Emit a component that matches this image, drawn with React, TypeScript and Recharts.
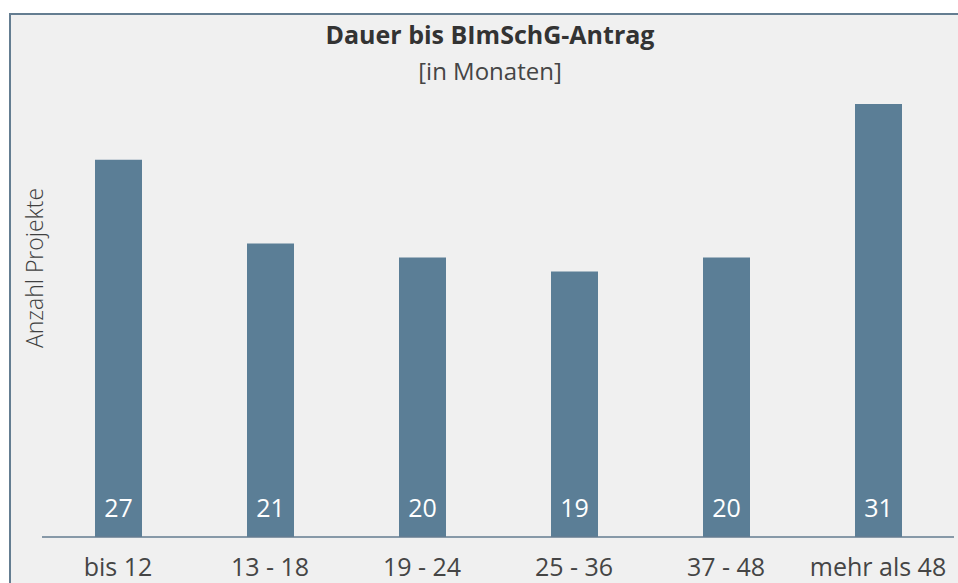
import { BarChart, Bar, XAxis, YAxis, LabelList } from 'recharts';

const CATEGORIES = ['bis 12', '13 - 18', '19 - 24', '25 - 36', '37 - 48', 'mehr als 48'];
const PROJECT_COUNTS = [27, 21, 20, 19, 20, 31];

const data = CATEGORIES.map((name, i) => ({ name, value: PROJECT_COUNTS[i] }));

const FONT = '"Open Sans", "Noto Sans", sans-serif';
const BAR_COLOR = '#5b7e96';
const FRAME_COLOR = '#647d91';

export default function App() {
  return (
    <div style={{ position: 'absolute', left: 0, top: 0, width: 958, height: 583, background: '#fff', overflow: 'hidden', fontFamily: FONT }}>
      <div
        style={{
          position: 'absolute',
          left: 9,
          top: 13,
          width: 960,
          height: 580,
          background: '#f0f0f0',
          borderTop: `2px solid ${FRAME_COLOR}`,
          borderLeft: `2px solid ${FRAME_COLOR}`,
        }}
      />
      <div style={{ position: 'absolute', left: 0, top: 0 }}>
        <BarChart width={958} height={583} data={data} margin={{ top: 48, right: 4, bottom: 0, left: 42 }}>
          <YAxis hide domain={[0, 35]} />
          <XAxis
            dataKey="name"
            height={46}
            tickLine={false}
            tickMargin={15}
            axisLine={{ stroke: FRAME_COLOR, strokeWidth: 1.5 }}
            tick={{ fontSize: 25, fill: '#454545', fontFamily: FONT }}
            interval={0}
          />
          <Bar dataKey="value" fill={BAR_COLOR} barSize={47} isAnimationActive={false}>
            <LabelList dataKey="value" position="insideBottom" offset={20} fill="#ffffff" fontSize={25} fontFamily={FONT} />
          </Bar>
        </BarChart>
      </div>
      <div style={{ position: 'absolute', left: 240, width: 500, top: 19, textAlign: 'center', fontSize: 25, fontWeight: 700, color: '#333', lineHeight: '30px' }}>
        Dauer bis BImSchG-Antrag
      </div>
      <div style={{ position: 'absolute', left: 290, width: 400, top: 56, textAlign: 'center', fontSize: 24, color: '#454545', lineHeight: '30px' }}>
        [in Monaten]
      </div>
      <div
        style={{
          position: 'absolute',
          left: 34,
          top: 268,
          transform: 'translate(-50%, -50%) rotate(-90deg)',
          whiteSpace: 'nowrap',
          fontSize: 23,
          fontWeight: 300,
          color: '#404040',
        }}
      >
        Anzahl Projekte
      </div>
    </div>
  );
}
